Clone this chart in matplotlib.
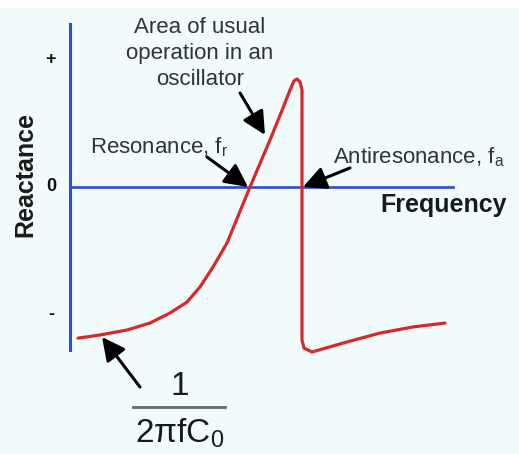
import matplotlib
matplotlib.use("Agg")
import matplotlib.pyplot as plt

plt.rcParams['font.family'] = ['Liberation Sans', 'DejaVu Sans']

# Crystal reactance versus frequency (normalized units)
frequency = [0.08, 0.30, 0.57, 0.80, 1.00, 1.17, 1.30, 1.43, 1.57, 1.80,
             2.00, 2.13, 2.20, 2.24, 2.27, 2.30, 2.32, 2.32, 2.32, 2.34,
             2.42, 2.77, 3.10, 3.43, 3.75]
reactance = [-1.19, -1.165, -1.126, -1.071, -0.992, -0.906, -0.787, -0.630,
             -0.441, 0.00, 0.370, 0.622, 0.764, 0.835, 0.850, 0.827, 0.764,
             0.00, -1.205, -1.268, -1.299, -1.220, -1.150, -1.102, -1.071]

f_resonance = 1.80
f_antiresonance = 2.32
y_tick_values = [1, 0, -1]
y_tick_labels = ['+', '0', '-']

BG = '#f1fbfc'
AXIS_BLUE = '#2c4fc4'
CURVE_RED = '#d62a2a'
TEXT_GREY = '#333333'

fig = plt.figure(figsize=(5.19, 4.54), dpi=100)
fig.patch.set_facecolor('white')
ax = fig.add_axes([0, 0, 1, 1])
ax.set_xlim(-0.70, 4.49)
ax.set_ylim(-2.102, 1.472)
ax.axis('off')

# background panel below the thin white strip at the top
ax.add_patch(plt.Rectangle((-0.70, -2.102), 5.19, 3.51, facecolor=BG,
                           edgecolor='none', zorder=0))

# axes lines
ax.plot([0, 0], [-1.28, 1.28], color=AXIS_BLUE, lw=2.2, zorder=2)
ax.plot([0, 3.83], [0, 0], color=AXIS_BLUE, lw=1.9, zorder=2)

# reactance curve
ax.plot(frequency, reactance, color=CURVE_RED, lw=2.3, zorder=3,
        solid_joinstyle='round', solid_capstyle='round')

# tick labels
for v, lab in zip(y_tick_values, y_tick_labels):
    ax.text(-0.19, v, lab, ha='center', va='center', fontsize=13,
            fontweight='bold', color='#111111')

ax.text(-0.45, 0.10, 'Reactance', rotation=90, ha='center', va='center',
        fontsize=18, fontweight='bold', color='#1a1a1a')
ax.text(4.37, -0.14, 'Frequency', ha='right', va='center',
        fontsize=18, fontweight='bold', color='#1a1a1a')

arrow = dict(arrowstyle='-|>,head_length=0.7,head_width=0.35', color='black',
             lw=2.2, mutation_scale=20, shrinkA=0, shrinkB=0)

ax.text(1.30, 1.05, 'Area of usual\noperation in an\noscillator', ha='center',
        va='center', fontsize=16, color=TEXT_GREY, linespacing=1.3)
ax.annotate('', xy=(1.95, 0.41), xytext=(1.70, 0.74), arrowprops=arrow)

ax.text(0.20, 0.268, 'Resonance, f$_\\mathregular{r}$', ha='left',
        va='baseline', fontsize=16, color=TEXT_GREY)
ax.annotate('', xy=(f_resonance - 0.02, 0.0), xytext=(1.37, 0.236),
            arrowprops=arrow)

ax.text(2.63, 0.189, 'Antiresonance, f$_\\mathregular{a}$', ha='left',
        va='baseline', fontsize=16, color=TEXT_GREY)
ax.annotate('', xy=(f_antiresonance + 0.01, 0.0), xytext=(2.80, 0.15),
            arrowprops=arrow)

# 1 / (2 pi f C0)
ax.text(1.10, -1.638, '1', ha='center', va='baseline', fontsize=24,
        color='#1a1a1a')
ax.plot([0.63, 1.55], [-1.732, -1.732], color='#666666', lw=2.0)
ax.text(1.10, -2.008, '2$\\mathregular{\\pi}$fC$_\\mathregular{0}$',
        ha='center', va='baseline', fontsize=24, color='#1a1a1a')
ax.annotate('', xy=(0.32, -1.181), xytext=(0.70, -1.575), arrowprops=arrow)

fig.savefig('out.png', dpi=100, facecolor=fig.get_facecolor())
